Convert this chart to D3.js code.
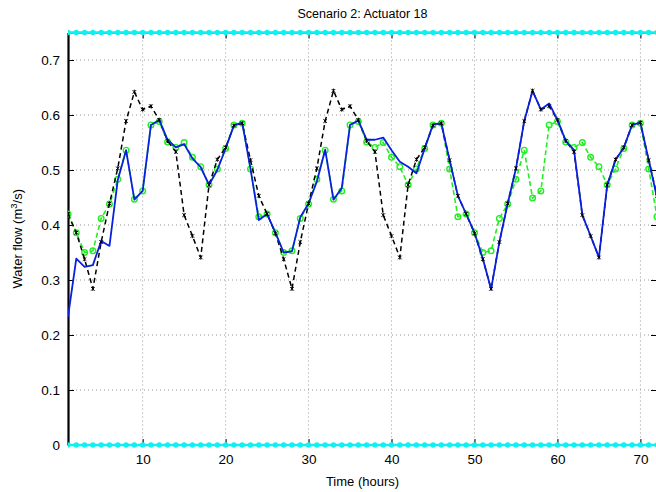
<!DOCTYPE html>
<html>
<head>
<meta charset="utf-8">
<script src="https://cdn.jsdelivr.net/npm/d3@7/dist/d3.min.js"></script>
<style>
  html, body { margin: 0; padding: 0; background: #fff; }
  svg { display: block; font-family: "Liberation Sans", Arial, Helvetica, sans-serif; }
</style>
</head>
<body>
<svg id="chart" width="656" height="492"></svg>
<script>
// Hourly water flow at actuator 18 (m^3/s), hours 1..72
const hours = d3.range(1, 73);

// Reference demand (black dashed, x marks)
const demand = [
  0.420, 0.386, 0.338, 0.284, 0.369, 0.439, 0.503, 0.589, 0.642, 0.610, 0.616, 0.591,
  0.553, 0.533, 0.418, 0.380, 0.341, 0.473, 0.519, 0.541, 0.581, 0.585, 0.518, 0.453,
  0.420, 0.385, 0.338, 0.284, 0.369, 0.439, 0.503, 0.589, 0.644, 0.610, 0.616, 0.591,
  0.553, 0.533, 0.418, 0.380, 0.341, 0.473, 0.519, 0.541, 0.581, 0.585, 0.518, 0.453,
  0.420, 0.385, 0.338, 0.284, 0.369, 0.439, 0.503, 0.589, 0.644, 0.610, 0.616, 0.591,
  0.553, 0.533, 0.418, 0.380, 0.341, 0.473, 0.519, 0.541, 0.582, 0.586, 0.518, 0.453
];

// Forecast (green dashed, circles)
const forecast = [
  0.420, 0.386, 0.350, 0.353, 0.412, 0.438, 0.483, 0.536, 0.447, 0.462, 0.582, 0.588,
  0.551, 0.541, 0.550, 0.523, 0.506, 0.473, 0.502, 0.539, 0.582, 0.585, 0.502, 0.415,
  0.420, 0.386, 0.350, 0.353, 0.412, 0.438, 0.483, 0.536, 0.447, 0.462, 0.582, 0.588,
  0.551, 0.541, 0.550, 0.523, 0.506, 0.473, 0.502, 0.539, 0.582, 0.585, 0.502, 0.415,
  0.420, 0.386, 0.350, 0.353, 0.412, 0.438, 0.483, 0.536, 0.449, 0.462, 0.582, 0.588,
  0.551, 0.541, 0.550, 0.523, 0.506, 0.473, 0.502, 0.539, 0.582, 0.585, 0.502, 0.415
];

// Actuator flow (solid blue)
const actuator = [
  0.233, 0.339, 0.324, 0.327, 0.371, 0.362, 0.482, 0.536, 0.446, 0.462, 0.582, 0.591,
  0.555, 0.541, 0.547, 0.521, 0.505, 0.473, 0.500, 0.539, 0.581, 0.586, 0.502, 0.409,
  0.420, 0.386, 0.350, 0.352, 0.414, 0.439, 0.479, 0.537, 0.446, 0.467, 0.582, 0.590,
  0.555, 0.555, 0.559, 0.536, 0.515, 0.506, 0.494, 0.539, 0.583, 0.585, 0.518, 0.453,
  0.420, 0.386, 0.339, 0.283, 0.369, 0.439, 0.503, 0.589, 0.644, 0.610, 0.621, 0.591,
  0.553, 0.536, 0.418, 0.380, 0.341, 0.473, 0.518, 0.541, 0.582, 0.586, 0.518, 0.450
];

// Flow bounds (cyan)
const bounds = [0, 0.75];

const xTicks = [10, 20, 30, 40, 50, 60, 70];
const yTicks = [0, 0.1, 0.2, 0.3, 0.4, 0.5, 0.6, 0.7];

const svg = d3.select("#chart");
const m = { left: 68, right: 657, top: 32.5, bottom: 445 };

const x = d3.scaleLinear().domain([1, 72]).range([m.left, m.right]);
const y = d3.scaleLinear().domain([0, 0.75]).range([m.bottom, m.top]);

svg.append("defs").append("clipPath").attr("id", "plotClip")
  .append("rect").attr("x", m.left).attr("y", m.top - 6)
  .attr("width", m.right - m.left + 6).attr("height", m.bottom - m.top + 12);

// Grid
const grid = svg.append("g");
grid.selectAll("line.gx").data(xTicks).join("line")
  .attr("x1", d => x(d)).attr("x2", d => x(d))
  .attr("y1", m.top).attr("y2", m.bottom)
  .attr("stroke", "#999").attr("stroke-width", 1)
  .attr("stroke-dasharray", "1,3");
grid.selectAll("line.gy").data(yTicks.filter(d => d > 0)).join("line")
  .attr("x1", m.left).attr("x2", m.right)
  .attr("y1", d => y(d)).attr("y2", d => y(d))
  .attr("stroke", "#999").attr("stroke-width", 1)
  .attr("stroke-dasharray", "1,3");

// Axes with inward ticks on all four sides
const fmtY = d => d === 0 ? "0" : d3.format(".1f")(d);
const axL = svg.append("g").attr("transform", `translate(${m.left},0)`)
  .call(d3.axisLeft(y).tickValues(yTicks).tickFormat(fmtY).tickSizeInner(-6).tickSizeOuter(0).tickPadding(8));
const axR = svg.append("g").attr("transform", `translate(${m.right},0)`)
  .call(d3.axisRight(y).tickValues(yTicks).tickFormat("").tickSizeInner(-6).tickSizeOuter(0));
const axB = svg.append("g").attr("transform", `translate(0,${m.bottom})`)
  .call(d3.axisBottom(x).tickValues(xTicks).tickFormat(d3.format("d")).tickSizeInner(-6).tickSizeOuter(0).tickPadding(9));
const axT = svg.append("g").attr("transform", `translate(0,${m.top})`)
  .call(d3.axisTop(x).tickValues(xTicks).tickFormat("").tickSizeInner(-6).tickSizeOuter(0));

[axL, axR, axB, axT].forEach(a => {
  a.select(".domain").attr("stroke", "#000").attr("stroke-width", 1);
  a.selectAll(".tick line").attr("stroke", "#000");
  a.selectAll(".tick text").attr("fill", "#000").style("font-size", "13.5px")
    .style("font-family", "'Liberation Sans', Arial, sans-serif");
});
axL.select(".domain").attr("stroke-width", 2.2);

const plot = svg.append("g").attr("clip-path", "url(#plotClip)");

const line = d3.line().x((d, i) => x(hours[i])).y(d => y(d));

// Forecast: green dashed with circles
plot.append("path").datum(forecast)
  .attr("d", line).attr("fill", "none")
  .attr("stroke", "#22ee22").attr("stroke-width", 1.6)
  .attr("stroke-dasharray", "5,3");
plot.selectAll("circle.fc").data(forecast).join("circle")
  .attr("class", "fc")
  .attr("cx", (d, i) => x(hours[i])).attr("cy", d => y(d)).attr("r", 2.8)
  .attr("fill", "none").attr("stroke", "#22ee22").attr("stroke-width", 1.4);

// Demand: black dashed
plot.append("path").datum(demand)
  .attr("d", line).attr("fill", "none")
  .attr("stroke", "#000").attr("stroke-width", 1.5)
  .attr("stroke-dasharray", "5,3.5");

// Actuator flow: solid blue
plot.append("path").datum(actuator)
  .attr("d", line).attr("fill", "none")
  .attr("stroke", "#0a1fe0").attr("stroke-width", 1.8)
  .attr("stroke-linejoin", "round");

// Demand markers (small x)
const xm = plot.selectAll("g.dm").data(demand).join("g")
  .attr("class", "dm")
  .attr("transform", (d, i) => `translate(${x(hours[i])},${y(d)})`);
xm.append("path").attr("d", "M-1.8,-1.8L1.8,1.8M-1.8,1.8L1.8,-1.8M0,-2.2L0,2.2")
  .attr("stroke", "#000").attr("stroke-width", 1);

// Bounds: cyan lines with dots at every hour
bounds.forEach(b => {
  plot.append("line")
    .attr("x1", m.left).attr("x2", m.right + 2)
    .attr("y1", y(b)).attr("y2", y(b))
    .attr("stroke", "#10f0f0").attr("stroke-width", 2.6);
  plot.selectAll(null).data(hours).join("circle")
    .attr("cx", d => x(d)).attr("cy", y(b)).attr("r", 2.7)
    .attr("fill", "#10f0f0");
});

// Title and axis labels
svg.append("text").attr("x", (m.left + m.right) / 2).attr("y", 18)
  .attr("text-anchor", "middle").style("font-size", "12.5px")
  .text("Scenario 2: Actuator 18");

svg.append("text").attr("x", (m.left + m.right) / 2).attr("y", 486)
  .attr("text-anchor", "middle").style("font-size", "13px")
  .text("Time (hours)");

const yl = svg.append("text")
  .attr("transform", `translate(22,${(m.top + m.bottom) / 2}) rotate(-90)`)
  .attr("text-anchor", "middle").style("font-size", "13px");
yl.append("tspan").text("Water flow (m");
yl.append("tspan").attr("dy", -5).style("font-size", "9.5px").text("3");
yl.append("tspan").attr("dy", 5).text("/s)");
</script>
</body>
</html>
